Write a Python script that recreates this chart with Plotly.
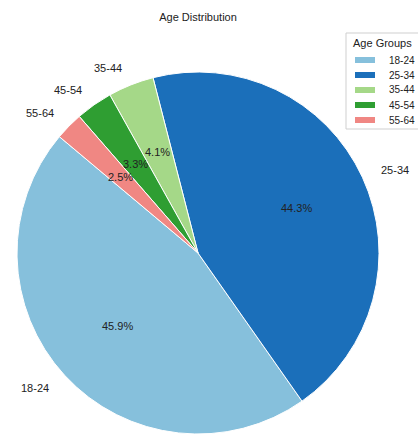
import math
import plotly.graph_objects as go

# Age group shares (percent)
age_groups = ["18-24", "25-34", "35-44", "45-54", "55-64"]
shares = [45.9, 44.3, 4.1, 3.3, 2.5]
colors = ["#86c0dc", "#1b6fba", "#a5d888", "#2f9e32", "#f08783"]
legend_title = "Age Groups"

W, H = 418, 435
FONT = "Liberation Sans, Arial"
# pie placement in pixels
cx, cy, R = 198, 253, 181
start_deg = 140  # first wedge starts here, counter-clockwise from 3 o'clock

total = sum(shares)
first_span = shares[0] / total * 360.0
rotation = 90 - start_deg - first_span
while rotation < -360:
    rotation += 360

fig = go.Figure(
    go.Pie(
        labels=age_groups,
        values=shares,
        sort=False,
        direction="counterclockwise",
        rotation=rotation,
        marker=dict(colors=colors, line=dict(color="white", width=1)),
        textinfo="none",
        hoverinfo="label+value",
        showlegend=False,
        domain=dict(x=[(cx - R) / W, (cx + R) / W], y=[1 - (cy + R) / H, 1 - (cy - R) / H]),
    )
)


def to_paper(px, py):
    return px / W, 1 - py / H


annotations = []
shapes = []
acc = 0.0
for name, v in zip(age_groups, shares):
    mid = math.radians(start_deg + (acc + v / 2) / total * 360.0)
    acc += v
    c, s = math.cos(mid), math.sin(mid)
    # category name just outside the rim
    lx, ly = to_paper(cx + 1.1 * R * c, cy - 1.1 * R * s)
    annotations.append(dict(
        x=lx, y=ly, xref="paper", yref="paper", text=name, showarrow=False,
        xanchor="right" if c < 0 else "left", yanchor="middle",
        font=dict(family=FONT, size=11, color="#222"),
    ))
    # percentage inside the wedge
    px_, py_ = to_paper(cx + 0.6 * R * c, cy - 0.6 * R * s)
    annotations.append(dict(
        x=px_, y=py_, xref="paper", yref="paper", text=f"{v:.1f}%", showarrow=False,
        xanchor="center", yanchor="middle",
        font=dict(family=FONT, size=11, color="#222"),
    ))

# legend box with wide colour swatches, running off the right edge
box_l, box_t, row0, row_h = 346, 33, 60, 15
box_b = row0 + row_h * (len(age_groups) - 1) + 9
bx0, by1 = to_paper(box_l, box_t)
bx1, by0 = to_paper(W + 6, box_b)
shapes.append(dict(
    type="rect", xref="paper", yref="paper", x0=bx0, x1=bx1, y0=by0, y1=by1,
    line=dict(color="#cfcfcf", width=1), fillcolor="rgba(255,255,255,0.85)", layer="above",
))
tx, ty = to_paper(box_l + 5, 43)
annotations.append(dict(
    x=tx, y=ty, xref="paper", yref="paper", text=legend_title, showarrow=False,
    xanchor="left", yanchor="middle", font=dict(family=FONT, size=11, color="#222"),
))
for i, (name, col) in enumerate(zip(age_groups, colors)):
    yc = row0 + i * row_h
    sx0, sy1 = to_paper(355, yc - 3)
    sx1, sy0 = to_paper(375, yc + 3)
    shapes.append(dict(
        type="rect", xref="paper", yref="paper", x0=sx0, x1=sx1, y0=sy0, y1=sy1,
        line=dict(width=0), fillcolor=col, layer="above",
    ))
    nx, ny = to_paper(387, yc)
    annotations.append(dict(
        x=nx, y=ny, xref="paper", yref="paper", text=name, showarrow=False,
        xanchor="left", yanchor="middle", font=dict(family=FONT, size=10, color="#222"),
    ))

fig.update_layout(
    width=W,
    height=H,
    margin=dict(l=0, r=0, t=0, b=0, autoexpand=False),
    paper_bgcolor="white",
    showlegend=False,
    title=dict(
        text="Age Distribution", x=198 / W, y=1 - 17 / H,
        xanchor="center", yanchor="middle",
        font=dict(family=FONT, size=11, color="#222"),
    ),
    shapes=shapes,
    annotations=annotations,
)

fig.write_html("out.html")
